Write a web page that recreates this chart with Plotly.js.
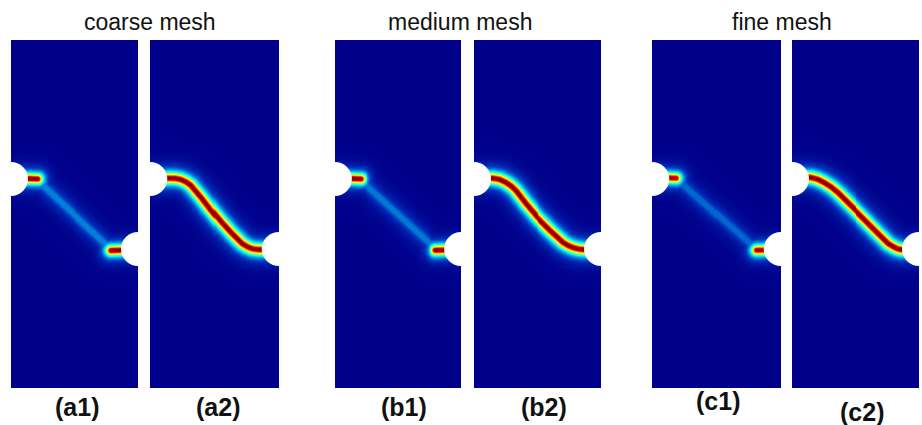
<!DOCTYPE html>
<html>
<head>
<meta charset="utf-8">
<script src="https://cdn.plot.ly/plotly-3.0.1.min.js"></script>
<style>
  html, body { margin: 0; padding: 0; background: #ffffff; }
  #plot { width: 922px; height: 425px; }
</style>
</head>
<body>
<div id="plot"></div>
<script>
// Plate with two edge holes, phase-field damage d in [0, 1].
// Lengths are in units of the plate width; y is measured upward.
const plateWidth = 1.0;
const plateHeight = 2.74;
const holeRadius = 0.134;
const holeLeftY = 1.646;
const holeRightY = 1.094;

const meshTitles = ['coarse mesh', 'medium mesh', 'fine mesh'];
const panelLabels = ['(a1)', '(a2)', '(b1)', '(b2)', '(c1)', '(c2)'];

// ---- Final crack paths (d = 1 along the path) ----
const a2CrackX = [0.05, 0.142, 0.19, 0.236, 0.276, 0.315, 0.394, 0.472, 0.551, 0.630, 0.709, 0.750, 0.787, 0.830, 0.882, 0.96];
const a2CrackY = [1.652, 1.654, 1.653, 1.644, 1.626, 1.598, 1.504, 1.402, 1.307, 1.220, 1.142, 1.117, 1.102, 1.096, 1.094, 1.094];

const b2CrackX = [0.05, 0.142, 0.195, 0.244, 0.285, 0.323, 0.402, 0.496, 0.598, 0.701, 0.742, 0.780, 0.826, 0.874, 0.96];
const b2CrackY = [1.654, 1.654, 1.645, 1.622, 1.594, 1.559, 1.457, 1.346, 1.244, 1.150, 1.126, 1.110, 1.099, 1.094, 1.094];

const c2CrackX = [0.05, 0.142, 0.195, 0.244, 0.300, 0.354, 0.457, 0.559, 0.669, 0.756, 0.795, 0.827, 0.852, 0.874, 0.96];
const c2CrackY = [1.661, 1.660, 1.646, 1.622, 1.587, 1.543, 1.441, 1.339, 1.228, 1.142, 1.118, 1.102, 1.096, 1.094, 1.094];

// ---- Early stage: damage at the two hole tips and a diffuse band between ----
const a1TipLeftX = [0.05, 0.205];   const a1TipLeftY = [1.654, 1.648];
const a1TipRightX = [0.785, 0.96];  const a1TipRightY = [1.088, 1.094];
const a1BandX = [0.22, 0.77];       const a1BandY = [1.622, 1.112];

const b1TipLeftX = [0.05, 0.200];   const b1TipLeftY = [1.654, 1.648];
const b1TipRightX = [0.795, 0.96];  const b1TipRightY = [1.090, 1.094];
const b1BandX = [0.22, 0.78];       const b1BandY = [1.622, 1.112];

const c1TipLeftX = [0.05, 0.185];   const c1TipLeftY = [1.661, 1.654];
const c1TipRightX = [0.805, 0.96];  const c1TipRightY = [1.090, 1.094];
const c1BandX = [0.21, 0.79];       const c1BandY = [1.628, 1.112];

// Peak damage of the diffuse band (coarse, medium, fine)
const bandPeak = [0.22, 0.21, 0.19];

// Smeared-crack profile widths (plate-width units)
const PX = 1 / 127;
const crackStyle = { core: 1.3 * PX, len: 5.2 * PX };
const tipStyle = { core: 1.4 * PX, len: 4.6 * PX };
const bandStyle = { core: 2.0 * PX, len: 5.5 * PX };

function segDist(px, py, ax, ay, bx, by) {
  const vx = bx - ax, vy = by - ay;
  const wx = px - ax, wy = py - ay;
  const L2 = vx * vx + vy * vy;
  let t = L2 > 0 ? (wx * vx + wy * vy) / L2 : 0;
  t = Math.max(0, Math.min(1, t));
  const dx = px - (ax + t * vx), dy = py - (ay + t * vy);
  return Math.sqrt(dx * dx + dy * dy);
}

function pathDist(px, py, xs, ys) {
  let m = Infinity;
  for (let i = 0; i < xs.length - 1; i++) {
    const d = segDist(px, py, xs[i], ys[i], xs[i + 1], ys[i + 1]);
    if (d < m) m = d;
  }
  return m;
}

const NX = 128, NY = 350;
const DX = plateWidth / NX, DY = plateHeight / NY;

function damageField(pieces) {
  const z = [];
  for (let j = 0; j < NY; j++) {
    const y = (j + 0.5) * DY;
    const row = new Array(NX);
    for (let i = 0; i < NX; i++) {
      const x = (i + 0.5) * DX;
      let d = 0;
      for (const p of pieces) {
        const r = pathDist(x, y, p.x, p.y);
        const v = p.peak * Math.exp(-Math.max(0, r - p.style.core) / p.style.len);
        if (v > d) d = v;
      }
      row[i] = d;
    }
    z.push(row);
  }
  return z;
}

const panelPieces = [
  [ { x: a1BandX, y: a1BandY, peak: bandPeak[0], style: bandStyle },
    { x: a1TipLeftX, y: a1TipLeftY, peak: 1.0, style: tipStyle },
    { x: a1TipRightX, y: a1TipRightY, peak: 1.0, style: tipStyle } ],
  [ { x: a2CrackX, y: a2CrackY, peak: 1.0, style: crackStyle } ],
  [ { x: b1BandX, y: b1BandY, peak: bandPeak[1], style: bandStyle },
    { x: b1TipLeftX, y: b1TipLeftY, peak: 1.0, style: tipStyle },
    { x: b1TipRightX, y: b1TipRightY, peak: 1.0, style: tipStyle } ],
  [ { x: b2CrackX, y: b2CrackY, peak: 1.0, style: crackStyle } ],
  [ { x: c1BandX, y: c1BandY, peak: bandPeak[2], style: bandStyle },
    { x: c1TipLeftX, y: c1TipLeftY, peak: 0.97, style: tipStyle },
    { x: c1TipRightX, y: c1TipRightY, peak: 0.97, style: tipStyle } ],
  [ { x: c2CrackX, y: c2CrackY, peak: 1.0, style: crackStyle } ]
];

// Panel placement on the page (pixels)
const W = 922, H = 425;
const panelPx = [[11, 138], [150, 279], [335, 461], [474, 601], [652, 781], [792, 919]];
const panelTop = 40, panelBottom = 388;

const jet = [
  [0, 'rgb(0,0,139)'], [0.125, 'rgb(0,50,190)'], [0.375, 'rgb(5,255,255)'],
  [0.625, 'rgb(255,255,0)'], [0.875, 'rgb(250,0,0)'], [1, 'rgb(130,0,0)']
];

const data = [];
const layout = {
  width: W, height: H,
  margin: { l: 0, r: 0, t: 0, b: 0 },
  paper_bgcolor: '#ffffff', plot_bgcolor: '#ffffff',
  showlegend: false,
  shapes: [], annotations: []
};

panelPieces.forEach((pieces, k) => {
  const n = k === 0 ? '' : String(k + 1);
  data.push({
    type: 'heatmap',
    z: damageField(pieces),
    x0: DX / 2, dx: DX, y0: DY / 2, dy: DY,
    colorscale: jet, zmin: 0, zmax: 1,
    zsmooth: 'best', showscale: false, hoverinfo: 'skip',
    xaxis: 'x' + n, yaxis: 'y' + n
  });
  layout['xaxis' + n] = {
    domain: [panelPx[k][0] / W, panelPx[k][1] / W],
    range: [0, plateWidth], visible: false, fixedrange: true
  };
  layout['yaxis' + n] = {
    domain: [1 - panelBottom / H, 1 - panelTop / H],
    range: [0, plateHeight], visible: false, fixedrange: true
  };
  // holes
  [[0, holeLeftY], [plateWidth, holeRightY]].forEach(([cx, cy]) => {
    layout.shapes.push({
      type: 'circle', xref: 'x' + n, yref: 'y' + n, layer: 'above',
      x0: cx - holeRadius, x1: cx + holeRadius,
      y0: cy - holeRadius, y1: cy + holeRadius,
      fillcolor: '#ffffff', line: { width: 0 }
    });
  });
});

const titleCx = [150, 460, 782];
meshTitles.forEach((t, i) => {
  layout.annotations.push({
    text: t, xref: 'paper', yref: 'paper',
    x: titleCx[i] / W, y: 1 - 22 / H, xanchor: 'center', yanchor: 'middle',
    showarrow: false,
    font: { family: 'Liberation Sans, Arial, sans-serif', size: 23, color: '#111111' }
  });
});

const labelCx = [77, 218, 404, 544, 718, 862];
const labelCy = [407, 407, 407, 407, 401, 412];
panelLabels.forEach((t, i) => {
  layout.annotations.push({
    text: '<b>' + t + '</b>', xref: 'paper', yref: 'paper',
    x: labelCx[i] / W, y: 1 - labelCy[i] / H, xanchor: 'center', yanchor: 'middle',
    showarrow: false,
    font: { family: 'Liberation Sans, Arial, sans-serif', size: 25, color: '#111111' }
  });
});

Plotly.newPlot('plot', data, layout, { displayModeBar: false, staticPlot: true });
</script>
</body>
</html>
